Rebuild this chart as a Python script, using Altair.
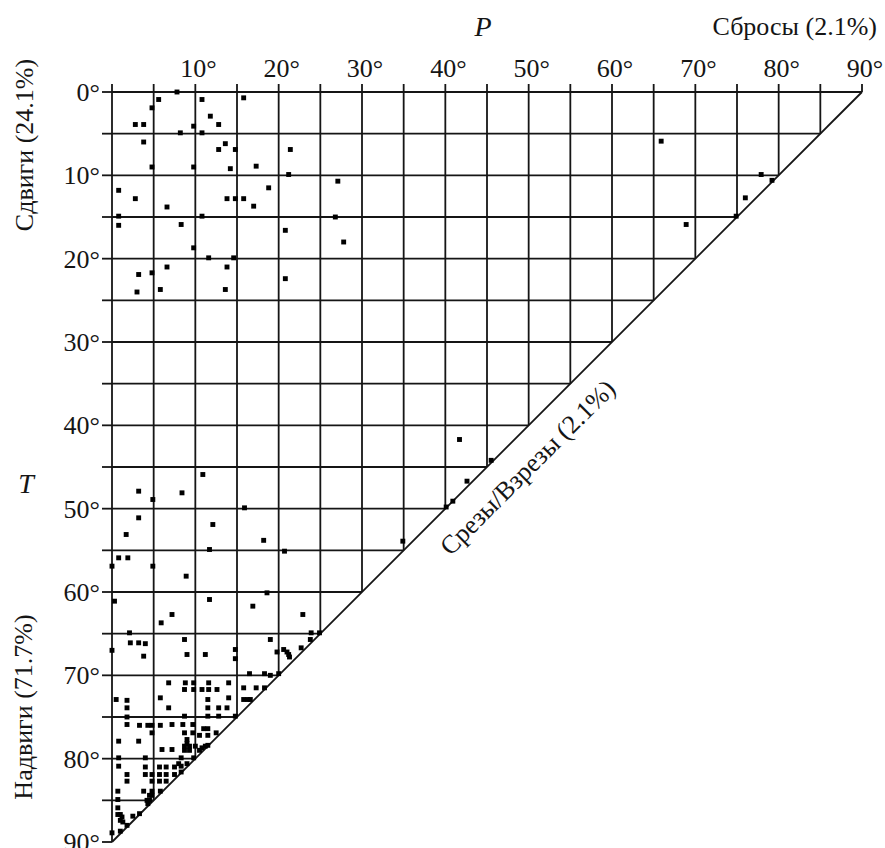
import altair as alt
import pandas as pd

# ---- data: P (plunge of P-axis) and T (plunge of T-axis), degrees ----
# strike-slip group (upper-left)
P_strike = [7.8, 5.6, 10.8, 15.8, 4.8, 11.8, 2.8, 3.8, 12.8, 9.8, 8.2, 10.8, 3.8, 13.6,
            12.8, 14.8, 21.4, 4.8, 9.8, 14.2, 17.3, 21.2, 27.1, 0.8, 2.8, 18.8, 13.8,
            14.8, 15.8, 17.0, 6.6, 0.8, 10.8, 0.8, 8.3, 26.8, 20.8, 27.8, 9.8, 11.6,
            14.6, 3.2, 4.8, 6.6, 13.8, 20.8, 3.0, 5.8, 13.6]
T_strike = [0.0, 0.9, 0.9, 0.7, 1.9, 2.9, 3.9, 3.9, 3.9, 4.1, 4.9, 4.9, 6.0, 6.2,
            6.9, 6.9, 6.9, 9.0, 9.0, 9.2, 8.9, 9.9, 10.7, 11.8, 12.8, 11.5, 12.8,
            12.8, 12.8, 13.7, 13.8, 14.9, 14.9, 16.0, 15.9, 15.0, 16.6, 18.0, 18.7, 19.9,
            19.9, 21.9, 21.7, 21.0, 21.0, 22.4, 24.0, 23.7, 23.7]

# normal-fault group (upper-right)
P_normal = [65.9, 77.9, 79.2, 76.0, 74.9, 68.9]
T_normal = [5.9, 9.9, 10.6, 12.7, 14.9, 15.9]

# oblique group (along the diagonal)
P_oblique = [41.7, 45.5, 42.6, 40.9, 40.1, 34.9]
T_oblique = [41.7, 44.2, 46.7, 49.1, 49.8, 53.9]

# thrust group (lower-left)
P_thrust = [10.9, 3.2, 8.4, 4.9, 15.9, 3.2, 12.1, 1.7, 18.2, 11.7, 20.7, 0.8, 1.9, 0.0,
            4.9, 8.9, 0.3, 11.7, 18.6, 16.9, 7.2, 5.9, 22.9, 2.1, 23.9, 24.9,
            8.7, 19.0, 23.8, 2.2, 3.2, 4.0, 0.0, 3.8, 9.0, 11.2, 14.8, 14.8,
            19.8, 20.6, 21.0, 21.2, 21.3, 22.7, 16.5, 18.3, 19.0, 20.0,
            6.8, 8.8, 9.8, 11.6, 14.0, 8.7, 9.8, 10.8, 11.6, 12.6, 15.8, 17.3, 18.3,
            15.8, 16.3, 16.6, 0.5, 1.8, 5.8, 14.0, 11.5, 1.8, 1.8, 1.8,
            6.8, 11.5, 12.8, 13.8, 11.5, 12.8, 8.7, 14.8, 3.3, 4.3, 4.8, 5.8,
            7.2, 8.5, 9.7, 11.0, 11.5, 12.5, 8.7, 9.7, 10.5, 11.5, 0.8, 3.2, 4.8,
            9.0, 9.0, 8.7, 9.3, 10.0, 11.2, 11.5, 6.0, 7.2, 8.7, 9.3, 10.5, 10.8,
            8.3, 9.8, 4.0, 0.8, 0.8, 4.0, 5.7, 6.5, 7.5, 8.3, 9.0, 8.0,
            1.8, 1.8, 4.0, 4.8, 5.7, 6.5, 7.5, 8.3, 4.8, 5.7, 6.5, 0.7, 0.7,
            3.8, 4.8, 5.8, 4.5, 4.8, 4.2, 4.5, 4.3, 0.7, 0.7, 1.0, 1.2, 2.5, 3.3,
            1.0, 1.3, 1.8, 1.0, 0.0]
T_thrust = [45.9, 47.9, 48.1, 48.9, 49.9, 51.1, 51.9, 53.1, 53.8, 54.9, 55.1, 55.9, 55.9, 56.9,
            56.9, 58.1, 61.1, 60.9, 60.1, 61.7, 62.7, 63.7, 62.7, 64.9, 64.9, 64.9,
            65.7, 65.7, 65.7, 66.1, 66.1, 66.2, 67.0, 67.7, 67.5, 67.5, 66.9, 68.0,
            67.2, 66.9, 67.2, 67.5, 67.8, 66.7, 69.8, 69.8, 70.0, 69.8,
            70.9, 70.9, 70.9, 70.9, 70.9, 71.7, 71.7, 71.7, 71.7, 71.7, 71.5, 71.5, 71.5,
            72.9, 72.9, 72.9, 72.9, 73.0, 72.7, 72.7, 72.9, 73.9, 75.0, 75.9,
            73.9, 73.9, 73.9, 73.9, 74.9, 74.9, 74.9, 74.9, 76.0, 76.0, 76.0, 76.0,
            75.9, 75.9, 75.9, 76.4, 76.4, 76.9, 76.9, 76.9, 77.2, 77.2, 77.9, 77.9, 76.9,
            77.7, 78.2, 78.5, 78.5, 78.5, 78.5, 78.4, 78.9, 78.9, 79.0, 79.0, 79.0, 78.7,
            79.9, 79.9, 79.9, 79.9, 80.9, 81.0, 81.0, 81.0, 81.0, 80.9, 80.6, 80.6,
            81.9, 82.7, 81.9, 81.9, 81.9, 81.9, 81.9, 81.6, 82.7, 82.7, 82.7, 83.9, 84.9,
            83.9, 83.9, 83.9, 84.4, 84.4, 85.0, 85.0, 85.4, 85.9, 86.7, 86.7, 87.0, 86.9, 86.6,
            87.4, 87.6, 88.0, 88.7, 88.9]

grid_steps = list(range(0, 95, 5))
x_label_vals = list(range(10, 100, 10))
y_label_vals = list(range(0, 100, 10))

FONT = "Times New Roman, Liberation Serif, serif"
INK = "#151515"
FS = 26

xs = alt.Scale(domain=[0, 90], nice=False, zero=False)
ys = alt.Scale(domain=[0, 90], nice=False, zero=False, reverse=True)

# ---- grid segments clipped to the triangle ----
seg_rows = []
for g in grid_steps:
    if g < 90:
        seg_rows.append(dict(x=g, y=0, x2=g, y2=90 - g))
        seg_rows.append(dict(x=0, y=g, x2=90 - g, y2=g))
seg_rows.append(dict(x=90, y=0, x2=0, y2=90))
seg_df = pd.DataFrame(seg_rows)

SW = 1.8
grid = alt.Chart(seg_df).mark_rule(color=INK, strokeWidth=SW).encode(
    x=alt.X("x:Q", scale=xs, axis=None),
    y=alt.Y("y:Q", scale=ys, axis=None),
    x2="x2:Q",
    y2="y2:Q",
)

ticks_df = pd.DataFrame({"g": grid_steps})
top_ticks = alt.Chart(ticks_df).mark_rule(color=INK, strokeWidth=SW).encode(
    x=alt.X("g:Q", scale=xs, axis=None),
    y=alt.value(0),
    y2=alt.value(-8),
)
left_ticks = alt.Chart(ticks_df).mark_rule(color=INK, strokeWidth=SW).encode(
    y=alt.Y("g:Q", scale=ys, axis=None),
    x=alt.value(0),
    x2=alt.value(-10),
)

# ---- points ----
pts = pd.DataFrame({
    "P": P_strike + P_normal + P_oblique + P_thrust,
    "T": T_strike + T_normal + T_oblique + T_thrust,
})
points = alt.Chart(pts).mark_square(size=24, color="black", opacity=1).encode(
    x=alt.X("P:Q", scale=xs, axis=None),
    y=alt.Y("T:Q", scale=ys, axis=None),
)

# ---- tick labels ----
xl = pd.DataFrame({"v": x_label_vals, "lab": [f"{v}°" for v in x_label_vals]})
top_labels = alt.Chart(xl).mark_text(
    font=FONT, fontSize=FS, color=INK, align="center", baseline="alphabetic", dx=3, dy=-15
).encode(x=alt.X("v:Q", scale=xs, axis=None), y=alt.value(0), text="lab:N")

yl = pd.DataFrame({"v": y_label_vals, "lab": [f"{v}°" for v in y_label_vals]})
left_labels = alt.Chart(yl).mark_text(
    font=FONT, fontSize=FS, color=INK, align="right", baseline="middle", dx=-12, dy=1
).encode(y=alt.Y("v:Q", scale=ys, axis=None), x=alt.value(0), text="lab:N")


def label(txt, px, py, **kw):
    opts = dict(font=FONT, fontSize=FS, color=INK)
    opts.update(kw)
    return alt.Chart(pd.DataFrame({"t": [txt]})).mark_text(**opts).encode(
        text="t:N", x=alt.value(px), y=alt.value(py)
    )


t_P = label("P", 371, -56, fontStyle="italic", fontSize=28, align="center", baseline="alphabetic")
t_norm = label("Сбросы (2.1%)", 765, -57, align="right", baseline="alphabetic")
t_T = label("T", -86, 401, fontStyle="italic", fontSize=28, align="center", baseline="alphabetic")
t_ss = label("Сдвиги (24.1%)", -87, 53, angle=270, align="center", baseline="middle")
t_th = label("Надвиги (71.7%)", -88, 615, angle=270, align="center", baseline="middle")
t_ob = label("Срезы/Взрезы (2.1%)", 416, 376, angle=315, align="center", baseline="middle")

chart = alt.layer(
    grid, top_ticks, left_ticks, points, top_labels, left_labels,
    t_P, t_norm, t_T, t_ss, t_th, t_ob,
).properties(
    width=750,
    height=750,
    padding={"left": 112, "top": 92, "right": 23, "bottom": 6},
    autosize=alt.AutoSizeParams(type="none"),
    background="white",
).configure_view(stroke=None)

chart.save("out.html", embed_options={"renderer": "svg", "actions": False})
